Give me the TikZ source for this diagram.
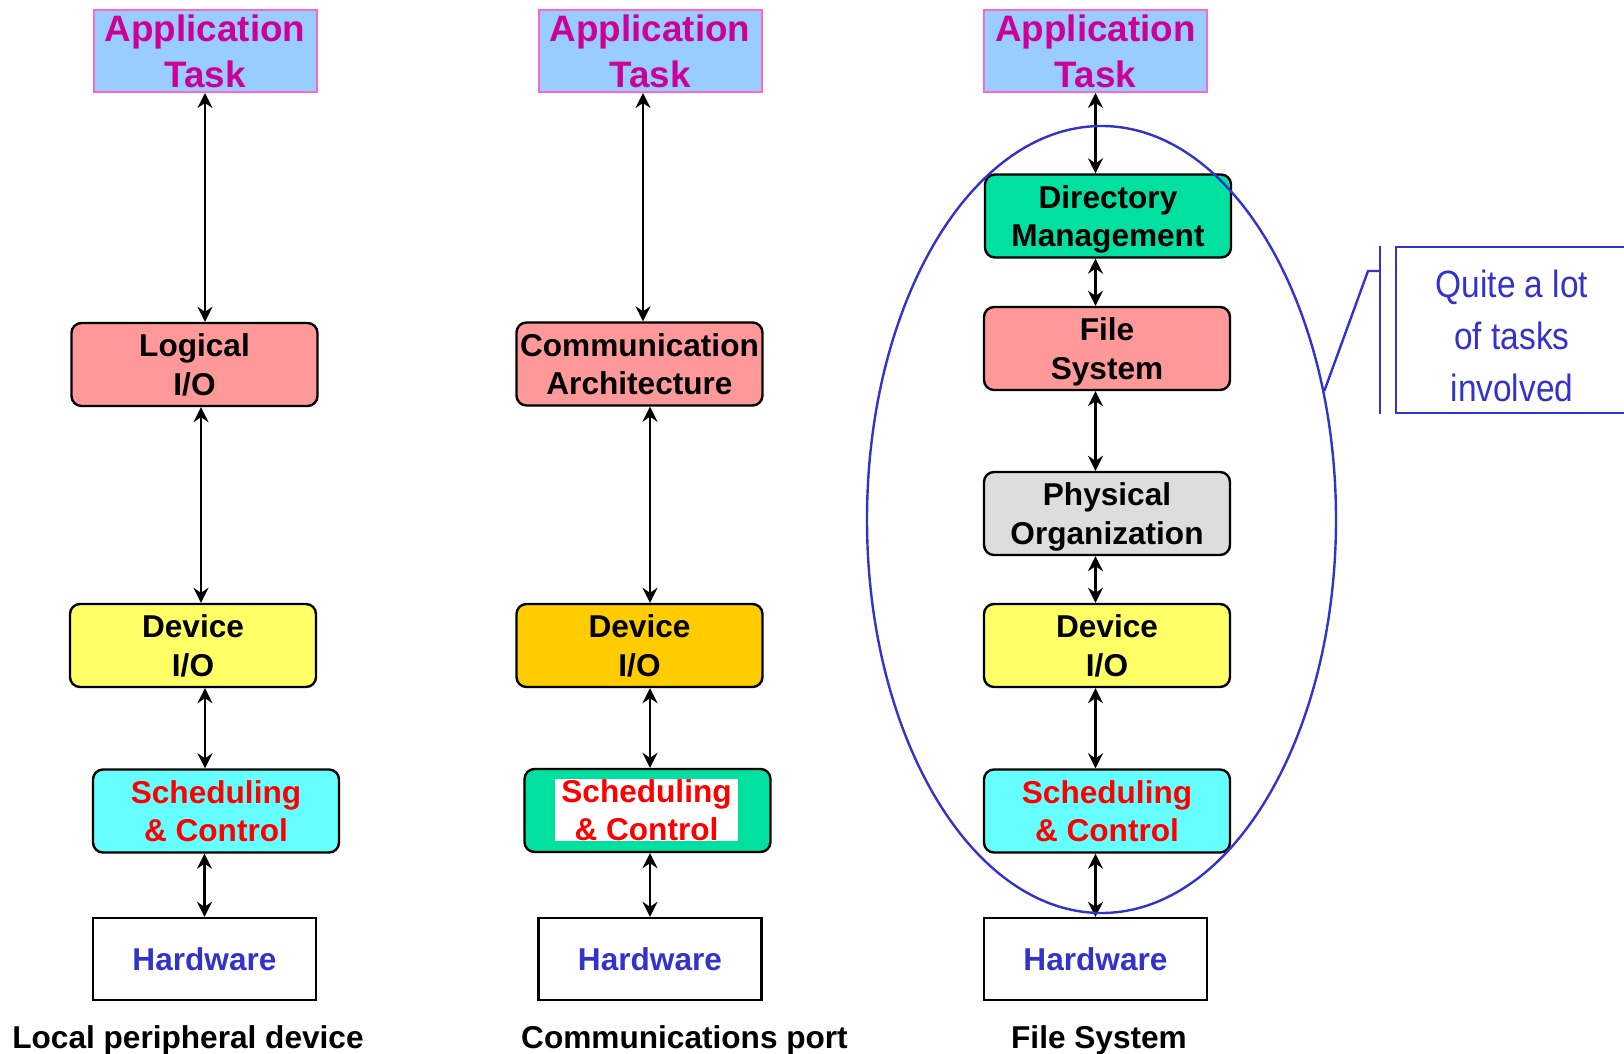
\documentclass[tikz,border=0pt]{standalone}
\usepackage{fontspec}
\setmainfont{Liberation Sans}
\newfontfamily\narrowsans[FakeStretch=0.88]{Liberation Sans}
\usetikzlibrary{arrows.meta,shapes.geometric,calc}

\definecolor{appfill}{HTML}{99CCFF}
\definecolor{appdraw}{HTML}{FF66CC}
\definecolor{apptext}{HTML}{CC0099}
\definecolor{pinkfill}{HTML}{FF9999}
\definecolor{yellowfill}{HTML}{FFFF66}
\definecolor{goldfill}{HTML}{FFCC00}
\definecolor{cyanfill}{HTML}{66FFFF}
\definecolor{tealfill}{HTML}{00E0A0}
\definecolor{greyfill}{HTML}{DDDDDD}
\definecolor{inkblue}{HTML}{3333CC}
\definecolor{schedred}{HTML}{FF0000}

\begin{document}
\begin{tikzpicture}[x=0.5pt,y=-0.5pt,
  apptask/.style={draw=appdraw, fill=appfill, line width=1pt, inner sep=0pt,
    minimum width=111.5pt, minimum height=41pt, align=center, text=apptext,
    text depth=0pt, font=\fontsize{18.4}{22.8}\selectfont\bfseries},
  layer/.style={draw=black, line width=1.2pt, rounded corners=5pt, inner sep=0pt,
    minimum width=123pt, minimum height=41.5pt, align=center, text depth=0pt,
    font=\fontsize{15.8}{19.2}\selectfont\bfseries},
  sched/.style={layer, text=schedred},
  hwbox/.style={draw=black, line width=1.2pt, inner sep=0pt,
    minimum width=111.5pt, minimum height=41pt, text=inkblue, text depth=0pt,
    font=\fontsize{15.8}{19.2}\selectfont\bfseries},
  caption/.style={anchor=base, font=\fontsize{15.8}{18.5}\selectfont\bfseries},
  tip/.style={Stealth[length=7.5pt,width=7.5pt,inset=2.5pt]},
  link/.style={{Stealth[length=7.5pt,width=7.5pt,inset=2.5pt]}-{Stealth[length=7.5pt,width=7.5pt,inset=2.5pt]},
    line width=1.1pt},
  blueline/.style={draw=inkblue, line width=1.2pt}
]
\useasboundingbox (0,0) rectangle (1624,1054);

% ---- Local peripheral device ----
\node[apptask] (app1) at (205,51) {Application\\Task};
\node[layer, fill=pinkfill] (log1) at (194.5,364.5) {Logical\\I/O};
\node[layer, fill=yellowfill] (dev1) at (193,645.5) {Device\\I/O};
\node[sched, fill=cyanfill] (sch1) at (216,811) {Scheduling\\\& Control};
\node[hwbox] (hw1) at (204.5,959) {Hardware};
\node[caption] (cap1) at (188,1048) {Local peripheral device};

\draw[link] (app1.south) -- (app1.south |- log1.north);
\draw[link] ([xshift=3.25pt]log1.south) -- ([xshift=3.25pt]log1.south |- dev1.north);
\draw[link] ([xshift=6pt]dev1.south) -- ([xshift=6pt]dev1.south |- sch1.north);
\draw[link] (hw1.north |- sch1.south) -- (hw1.north);

% ---- Communications port ----
\node[apptask] (app2) at (650,51) {Application\\Task};
\node[layer, fill=pinkfill] (com2) at (639.5,364) {Communication\\Architecture};
\node[layer, fill=goldfill] (dev2) at (639.5,645.5) {Device\\I/O};
\node[layer, fill=tealfill] (sch2) at (647.5,810.5) {};
\node[fill=white, inner sep=0pt, minimum width=91.5pt, minimum height=28pt,
  align=center, text=schedred, text depth=0pt,
  font=\fontsize{15.8}{19.2}\selectfont\bfseries]
  (sch2t) at (646.5,810) {Scheduling\\\& Control};
\node[hwbox] (hw2) at (650,959) {Hardware};
\node[caption] (cap2) at (684.5,1048) {Communications port};

\draw[link] ([xshift=-3.5pt]app2.south) -- ([xshift=-3.5pt]app2.south |- com2.north);
\draw[link] ([xshift=5.25pt]com2.south) -- ([xshift=5.25pt]com2.south |- dev2.north);
\draw[link] ([xshift=5.25pt]dev2.south) -- ([xshift=5.25pt]dev2.south |- sch2.north);
\draw[link] (hw2.north |- sch2.south) -- (hw2.north);

% ---- File System ----
\node[apptask] (app3) at (1095.5,51) {Application\\Task};
\node[layer, fill=tealfill] (dir3) at (1108,216) {Directory\\Management};
\node[layer, fill=pinkfill] (fs3) at (1107,348.5) {File\\System};
\node[layer, fill=greyfill] (po3) at (1107,513.5) {Physical\\Organization};
\node[layer, fill=yellowfill] (dev3) at (1107,645.5) {Device\\I/O};
\node[sched, fill=cyanfill] (sch3) at (1107,811) {Scheduling\\\& Control};
\node[hwbox] (hw3) at (1095.5,959) {Hardware};
\node[caption] (cap3) at (1099,1048) {File System};

\draw[link] (app3.south) -- (app3.south |- dir3.north);
\draw[link] (app3.south |- dir3.south) -- (app3.south |- fs3.north);
\draw[link] (app3.south |- fs3.south) -- (app3.south |- po3.north);
\draw[link] (app3.south |- po3.south) -- (app3.south |- dev3.north);
\draw[link] (app3.south |- dev3.south) -- (app3.south |- sch3.north);
\draw[link] (app3.south |- sch3.south) -- (app3.south |- hw3.north);

% ring round the file-system layers
\node[ellipse, blueline, inner sep=0pt, minimum width=234.5pt, minimum height=393.5pt]
  (ring) at (1101.5,519.5) {};

% callout
\coordinate (bend) at (1368,271);
\coordinate (bartop) at (1380,246);
\coordinate (barbot) at (1380,414);
\draw[blueline] (ring.30) -- (bend) -- (bend -| bartop);
\draw[blueline] (bartop) -- (barbot);
\draw[blueline] (1634,247) -- (1396,247) -- (1396,413) -- (1634,413);
\node[text=inkblue, align=center, inner sep=0pt,
  font=\narrowsans\fontsize{19}{25.8}\selectfont] (note) at (1512,336)
  {Quite a lot\\of tasks\\involved};
\end{tikzpicture}
\end{document}
